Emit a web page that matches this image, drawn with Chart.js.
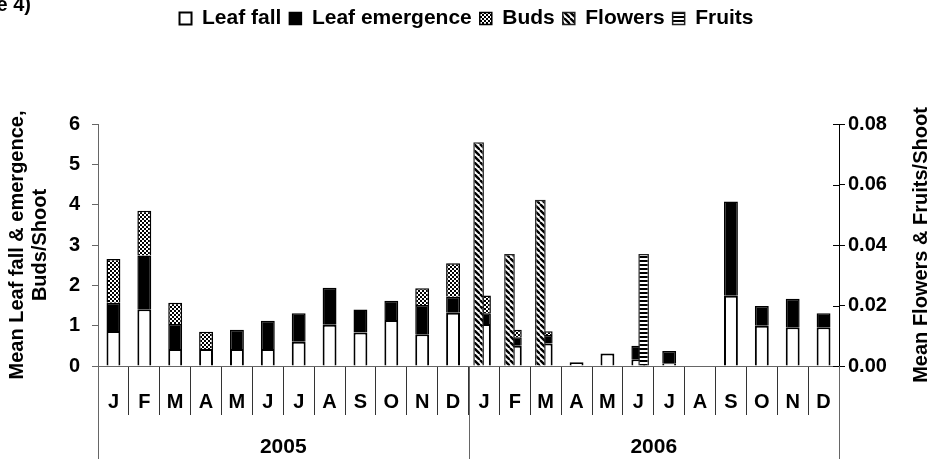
<!DOCTYPE html>
<html>
<head>
<meta charset="utf-8">
<script src="https://cdn.jsdelivr.net/npm/chart.js@4.4.1/dist/chart.umd.min.js"></script>
<style>
  body { margin: 0; background: #fff; }
  #wrap { position: relative; width: 933px; height: 459px; overflow: hidden; }
  #fig { position: absolute; right: 902px; top: -7px; font: bold 20px "Liberation Sans", Arial, sans-serif; white-space: nowrap; }
</style>
</head>
<body>
<div id="wrap">
  <canvas id="phenologyChart" width="933" height="459"></canvas>
  <div id="fig">(Figure 4)</div>
</div>
<script>
// phenology chart, 2005-2006

const months = ['J','F','M','A','M','J','J','A','S','O','N','D',
                'J','F','M','A','M','J','J','A','S','O','N','D']
const years = ['2005', '2006']

// left axis (per shoot)
const leafFall = [0.87, 1.41, 0.42, 0.42, 0.42, 0.42, 0.60, 1.02, 0.83, 1.14, 0.79, 1.32,
                  1.04, 0.50, 0.56, 0.09, 0.31, 0.17, 0.07, null, 1.74, 1.00, 0.96, 0.96]
const leafEmergence = [0.70, 1.33, 0.62, null, 0.48, 0.70, 0.71, 0.92, 0.57, 0.48, 0.72, 0.40,
                       0.27, 0.21, 0.21, null, null, 0.33, 0.30, null, 2.34, 0.49, 0.71, 0.35]
const buds = [1.08, 1.11, 0.53, 0.43, null, null, null, null, null, null, 0.42, 0.83,
              0.44, 0.19, 0.09, null, null, null, null, null, null, null, null, null]

// right axis (per shoot)
const flowers = [null, null, null, null, null, null, null, null, null, null, null, null,
                 0.074, 0.037, 0.055, null, null, null, null, null, null, null, null, null]
const fruits = [null, null, null, null, null, null, null, null, null, null, null, null,
                null, null, null, null, null, 0.037, null, null, null, null, null, null]

const FONT = '"Liberation Sans", Arial, sans-serif'

const makePattern = (w, h, draw) => {
    const c = document.createElement('canvas')
    c.width = w
    c.height = h
    const g = c.getContext('2d')
    g.fillStyle = '#fff'
    g.fillRect(0, 0, w, h)
    g.fillStyle = '#000'
    g.strokeStyle = '#000'
    draw(g)
    return g.createPattern(c, 'repeat')
}

const budPattern = makePattern(4, 4, g => {
    g.fillRect(0, 0, 2, 2)
    g.fillRect(2, 2, 2, 2)
})

const flowerPattern = makePattern(6, 6, g => {
    g.lineWidth = 2.4
    for (let x0 = -6; x0 <= 6; x0 += 6) {
        g.beginPath()
        g.moveTo(x0, 0)
        g.lineTo(x0 + 6, 6)
        g.stroke()
    }
})

const fruitPattern = makePattern(4, 4, g => {
    g.fillRect(0, 0, 4, 2)
})

// push the plot down below the legend
const legendGap = {
    id: 'legendGap',
    beforeInit(chart) {
        const fit = chart.legend.fit
        chart.legend.fit = function () {
            fit.bind(chart.legend)()
            this.height = 124
        }
    }
}

// year row, separators and right title
const yearRow = {
    id: 'yearRow',
    afterDraw(chart) {
        const {ctx, scales: {x, y2}} = chart
        const half = (x.getPixelForValue(1) - x.getPixelForValue(0)) / 2
        ctx.save()
        ctx.strokeStyle = '#666'
        ctx.lineWidth = 1
        for (let k = 0; k <= years.length; k++) {
            const px = Math.round(x.getPixelForValue(k * 12) - half) + 0.5
            ctx.beginPath()
            ctx.moveTo(px, x.top)
            ctx.lineTo(px, chart.height)
            ctx.stroke()
        }
        ctx.fillStyle = '#000'
        ctx.font = 'bold 21px ' + FONT
        ctx.textAlign = 'center'
        ctx.textBaseline = 'middle'
        years.forEach((yr, k) => {
            const cx = (x.getPixelForValue(k * 12) + x.getPixelForValue(k * 12 + 11)) / 2
            ctx.fillText(yr, cx, 447)
        })

        // inner half of the right ticks
        ctx.strokeStyle = '#000'
        y2.ticks.forEach(t => {
            const py = Math.round(y2.getPixelForValue(t.value)) + 0.5
            ctx.beginPath()
            ctx.moveTo(y2.left - 6, py)
            ctx.lineTo(y2.left, py)
            ctx.stroke()
        })

        ctx.translate(921, (y2.top + y2.bottom) / 2)
        ctx.rotate(-Math.PI / 2)
        ctx.font = 'bold 20px ' + FONT
        ctx.fillText('Mean Flowers & Fruits/Shoot', 0, 0)
        ctx.restore()
    }
}

const leafBar = {
    yAxisID: 'y',
    stack: 'leaf',
    order: 1,
    grouped: false,
    categoryPercentage: 0.45,
    barPercentage: 1,
    borderColor: '#000',
}

const fruitBar = {
    yAxisID: 'y2',
    order: 0,
    grouped: true,
    categoryPercentage: 0.69,
    barPercentage: 1,
    borderColor: '#222',
    borderWidth: 1.5,
}

var ctx = document.getElementById('phenologyChart')

var phenologyChart = new Chart(ctx, {
    type: 'bar',
    data: {
        labels: months,
        datasets: [
            {...leafBar, label: 'Leaf fall', data: leafFall, backgroundColor: '#fff', borderWidth: 2},
            {...leafBar, label: 'Leaf emergence', data: leafEmergence, backgroundColor: '#000', borderWidth: 1.5},
            {...leafBar, label: 'Buds', data: buds, backgroundColor: budPattern, borderWidth: 1.5},
            {...fruitBar, label: 'Flowers', data: flowers, backgroundColor: flowerPattern, stack: 'fl'},
            {...fruitBar, label: 'Fruits', data: fruits, backgroundColor: fruitPattern, stack: 'fr'},
        ]
    },
    options: {
        responsive: false,
        devicePixelRatio: 1,
        animation: false,
        layout: {padding: 0},
        plugins: {
            tooltip: {enabled: false},
            legend: {
                display: true,
                position: 'top',
                labels: {
                    boxWidth: 12,
                    boxHeight: 12,
                    padding: 8,
                    color: '#000',
                    font: {family: FONT, size: 21, weight: 'bold'},
                    sort: (a, b) => a.datasetIndex - b.datasetIndex,
                },
            },
        },
        scales: {
            x: {
                type: 'category',
                position: 'bottom',
                stacked: true,
                offset: true,
                grid: {display: true, drawOnChartArea: false, offset: true, tickLength: 49, color: '#333', lineWidth: 1},
                border: {display: true, color: '#666', width: 1},
                ticks: {
                    color: '#000',
                    font: {family: FONT, size: 20, weight: 'bold'},
                    padding: -25,
                    maxRotation: 0,
                    autoSkip: false,
                },
                afterFit: s => { s.height = 93 },
            },
            y: {
                position: 'left',
                stacked: true,
                min: 0,
                max: 6,
                ticks: {
                    stepSize: 1,
                    color: '#000',
                    padding: 12,
                    font: {family: FONT, size: 20, weight: 'bold'},
                },
                grid: {drawOnChartArea: false, tickLength: 6, color: '#666'},
                border: {display: true, color: '#666', width: 1},
                title: {
                    display: true,
                    text: ['Mean Leaf fall & emergence,', 'Buds/Shoot'],
                    color: '#000',
                    font: {family: FONT, size: 20, weight: 'bold', lineHeight: 1.15},
                    padding: {top: 6, bottom: 0},
                },
                afterFit: s => { s.width = 98 },
            },
            y2: {
                position: 'right',
                stacked: false,
                min: 0,
                max: 0.08,
                ticks: {
                    stepSize: 0.02,
                    color: '#000',
                    padding: 3,
                    font: {family: FONT, size: 20, weight: 'bold'},
                    callback: v => v.toFixed(2),
                },
                grid: {drawOnChartArea: false, tickLength: 6, color: '#000'},
                border: {display: true, color: '#000', width: 1},
                afterFit: s => { s.width = 94 },
            },
        },
    },
    plugins: [legendGap, yearRow],
})
</script>
</body>
</html>
